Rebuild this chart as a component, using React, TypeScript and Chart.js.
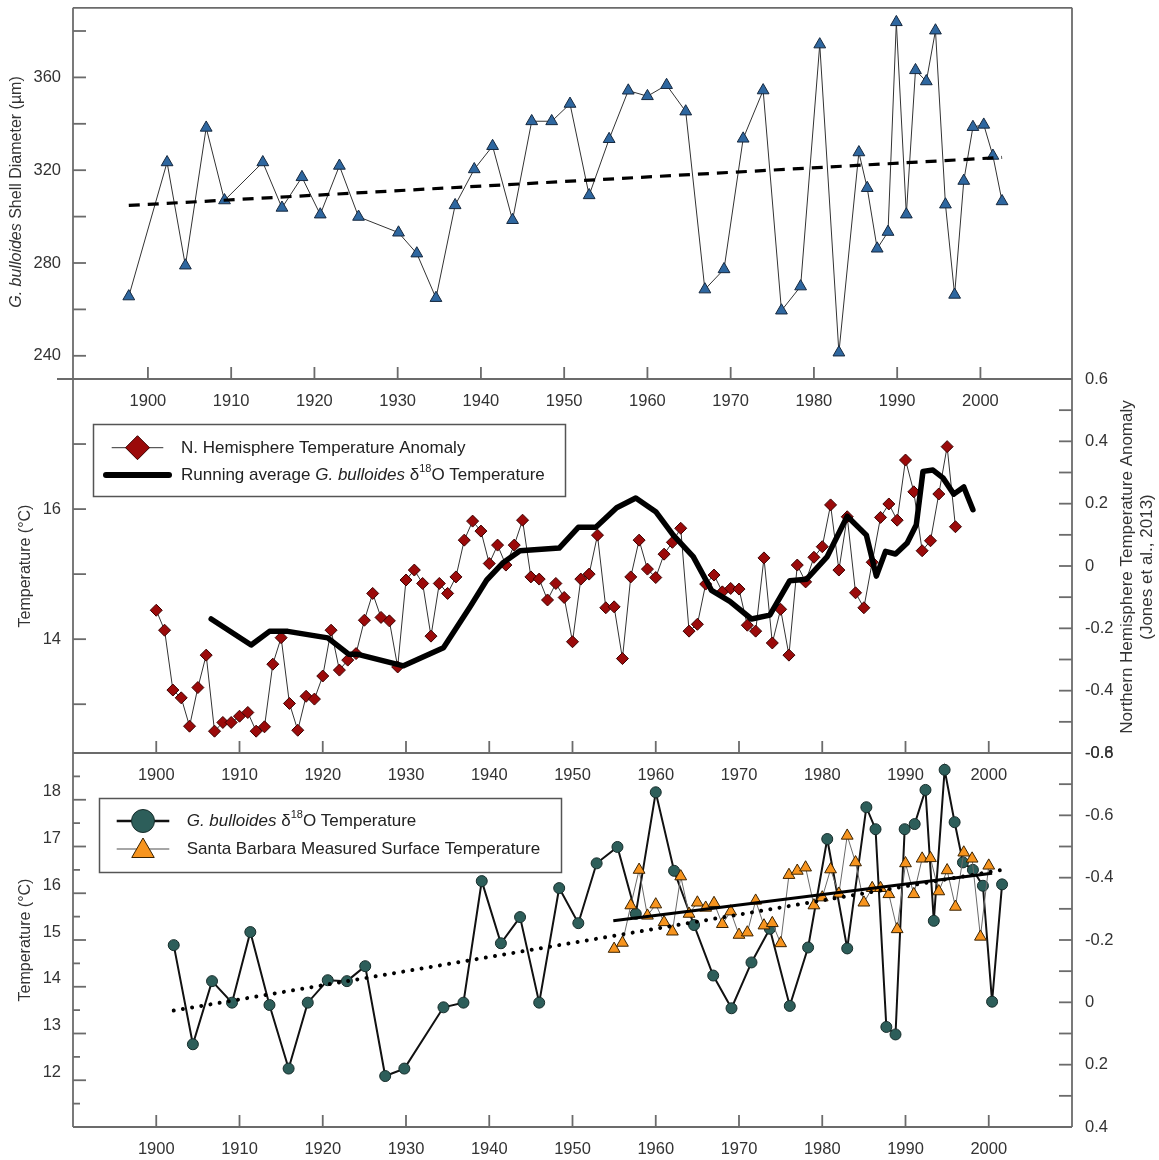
import React, { useEffect, useRef } from "react";
import { Chart, registerables } from "chart.js";

Chart.register(...registerables);

// ---------------- data ----------------
// Top panel: G. bulloides shell diameter (µm)
const shellYears = [1897.7, 1902.3, 1904.5, 1907.0, 1909.2, 1913.8, 1916.1, 1918.5, 1920.7, 1923.0, 1925.3, 1930.1, 1932.3, 1934.6, 1936.9, 1939.2, 1941.4, 1943.8, 1946.1, 1948.5, 1950.7, 1953.0, 1955.4, 1957.7, 1960.0, 1962.3, 1964.6, 1966.9, 1969.2, 1971.5, 1973.9, 1976.1, 1978.4, 1980.7, 1983.0, 1985.4, 1986.4, 1987.6, 1988.9, 1989.9, 1991.1, 1992.2, 1993.5, 1994.6, 1995.8, 1996.9, 1998.0, 1999.1, 2000.4, 2001.5, 2002.6];
const shellDiameter = [265.6, 323.4, 278.9, 338.3, 307.0, 323.4, 303.8, 317.0, 300.9, 321.9, 299.9, 293.1, 284.1, 264.9, 304.9, 320.4, 330.4, 298.5, 341.1, 341.1, 348.6, 309.2, 333.4, 354.3, 351.9, 356.7, 345.3, 268.6, 277.3, 333.6, 354.4, 259.5, 269.9, 374.2, 241.4, 327.7, 312.3, 286.2, 293.4, 383.8, 300.9, 363.1, 358.3, 380.2, 305.2, 266.3, 315.4, 338.6, 339.6, 326.2, 306.6];
const shellTrendYears = [1897.7, 2002.6];
const shellTrend = [304.8, 325.5];

// Middle panel: N. Hemisphere temperature anomaly (right axis)
const nhYears = [1900, 1901, 1902, 1903, 1904, 1905, 1906, 1907, 1908, 1909, 1910, 1911, 1912, 1913, 1914, 1915, 1916, 1917, 1918, 1919, 1920, 1921, 1922, 1923, 1924, 1925, 1926, 1927, 1928, 1929, 1930, 1931, 1932, 1933, 1934, 1935, 1936, 1937, 1938, 1939, 1940, 1941, 1942, 1943, 1944, 1945, 1946, 1947, 1948, 1949, 1950, 1951, 1952, 1953, 1954, 1955, 1956, 1957, 1958, 1959, 1960, 1961, 1962, 1963, 1964, 1965, 1966, 1967, 1968, 1969, 1970, 1971, 1972, 1973, 1974, 1975, 1976, 1977, 1978, 1979, 1980, 1981, 1982, 1983, 1984, 1985, 1986, 1987, 1988, 1989, 1990, 1991, 1992, 1993, 1994, 1995, 1996];
const nhAnomaly = [-0.142, -0.206, -0.398, -0.423, -0.514, -0.390, -0.286, -0.530, -0.502, -0.502, -0.482, -0.470, -0.530, -0.516, -0.315, -0.230, -0.441, -0.527, -0.418, -0.427, -0.353, -0.206, -0.334, -0.302, -0.281, -0.174, -0.088, -0.165, -0.176, -0.324, -0.045, -0.013, -0.056, -0.225, -0.056, -0.088, -0.035, 0.083, 0.144, 0.112, 0.008, 0.067, 0.003, 0.067, 0.147, -0.035, -0.042, -0.109, -0.056, -0.101, -0.243, -0.042, -0.026, 0.099, -0.134, -0.131, -0.297, -0.035, 0.083, -0.010, -0.037, 0.038, 0.076, 0.121, -0.209, -0.187, -0.058, -0.029, -0.083, -0.072, -0.074, -0.190, -0.209, 0.026, -0.247, -0.139, -0.286, 0.003, -0.051, 0.028, 0.062, 0.196, -0.013, 0.158, -0.086, -0.134, 0.012, 0.156, 0.199, 0.147, 0.340, 0.238, 0.049, 0.081, 0.231, 0.383, 0.126];
// Middle panel: running average G. bulloides d18O temperature (left axis)
const runYears = [1906.6, 1911.4, 1913.6, 1915.8, 1920.6, 1923.1, 1924.1, 1929.7, 1934.5, 1937.7, 1939.7, 1941.7, 1943.7, 1948.4, 1950.7, 1952.8, 1955.3, 1957.6, 1960.0, 1962.1, 1964.5, 1966.7, 1968.9, 1971.5, 1973.7, 1976.1, 1978.1, 1980.6, 1983.0, 1985.3, 1986.5, 1987.6, 1988.8, 1990.2, 1991.3, 1992.1, 1993.3, 1994.5, 1995.8, 1997.0, 1998.1];
const runTemp = [14.31, 13.91, 14.12, 14.12, 14.02, 13.77, 13.77, 13.59, 13.87, 14.50, 14.91, 15.18, 15.36, 15.40, 15.72, 15.72, 16.02, 16.17, 15.96, 15.60, 15.27, 14.75, 14.58, 14.31, 14.37, 14.90, 14.92, 15.27, 15.89, 15.60, 14.97, 15.35, 15.31, 15.48, 15.76, 16.58, 16.60, 16.48, 16.23, 16.34, 15.99];

// Bottom panel: G. bulloides d18O temperature
const gbYears = [1902.1, 1904.4, 1906.7, 1909.1, 1911.3, 1913.6, 1915.9, 1918.2, 1920.6, 1922.9, 1925.1, 1927.5, 1929.8, 1934.5, 1936.9, 1939.1, 1941.4, 1943.7, 1946.0, 1948.4, 1950.7, 1952.9, 1955.4, 1957.6, 1960.0, 1962.2, 1964.6, 1966.9, 1969.1, 1971.5, 1973.7, 1976.1, 1978.3, 1980.6, 1983.0, 1985.3, 1986.4, 1987.7, 1988.8, 1989.9, 1991.1, 1992.4, 1993.4, 1994.7, 1995.9, 1996.9, 1998.1, 1999.3, 2000.4, 2001.6];
const gbTemp = [14.89, 12.77, 14.12, 13.66, 15.17, 13.61, 12.25, 13.66, 14.14, 14.12, 14.44, 12.09, 12.25, 13.56, 13.66, 16.26, 14.93, 15.49, 13.66, 16.11, 15.36, 16.64, 16.99, 15.56, 18.16, 16.48, 15.32, 14.24, 13.54, 14.52, 15.24, 13.59, 14.84, 17.16, 14.82, 17.84, 17.37, 13.14, 12.98, 17.37, 17.48, 18.21, 15.41, 18.64, 17.52, 16.66, 16.50, 16.16, 13.68, 16.19];
// Bottom panel: Santa Barbara measured surface temperature
const sbYears = [1955, 1956, 1957, 1958, 1959, 1960, 1961, 1962, 1963, 1964, 1965, 1966, 1967, 1968, 1969, 1970, 1971, 1972, 1973, 1974, 1975, 1976, 1977, 1978, 1979, 1980, 1981, 1982, 1983, 1984, 1985, 1986, 1987, 1988, 1989, 1990, 1991, 1992, 1993, 1994, 1995, 1996, 1997, 1998, 1999, 2000];
const sbTemp = [14.81, 14.94, 15.74, 16.50, 15.52, 15.76, 15.38, 15.18, 16.36, 15.56, 15.80, 15.69, 15.79, 15.34, 15.61, 15.11, 15.16, 15.84, 15.31, 15.36, 14.93, 16.39, 16.48, 16.55, 15.74, 15.91, 16.51, 15.99, 17.23, 16.66, 15.80, 16.11, 16.11, 15.98, 15.23, 16.64, 15.98, 16.74, 16.75, 16.04, 16.49, 15.71, 16.87, 16.74, 15.07, 16.59];
const sbTrendYears = [1954.9, 2000.4];
const sbTrend = [15.41, 16.43];
const gbTrendYears = [1902.1, 2001.6];
const gbTrend = [13.49, 16.5];

// tick labels
const yearTicks = [1900, 1910, 1920, 1930, 1940, 1950, 1960, 1970, 1980, 1990, 2000];
const shellTicks = [240, 280, 320, 360];
const shellMinor = [240, 260, 280, 300, 320, 340, 360, 380];
const midTempTicks = [14, 16];
const midTempMinor = [13, 14, 15, 16, 17];
const midAnomTicks = [0.6, 0.4, 0.2, 0, -0.2, -0.4, -0.6];
const midAnomMinor = [0.5, 0.4, 0.3, 0.2, 0.1, 0, -0.1, -0.2, -0.3, -0.4, -0.5];
const botTempTicks = [12, 13, 14, 15, 16, 17, 18];
const botTempMinor = [11.5, 12.5, 13.5, 14.5, 15.5, 16.5, 17.5, 18.5];
const botAnomTicks = [-0.8, -0.6, -0.4, -0.2, 0, 0.2, 0.4];
const botAnomMinor = [-0.7, -0.6, -0.5, -0.4, -0.3, -0.2, -0.1, 0, 0.1, 0.2, 0.3];

// ---------------- layout / style ----------------
const W = 1159;
const H = 1160;
const LEFT = 73;
const RIGHT = 1072;
const AXW_L = 60; // fixed width of left axis box
const AXW_R = 60; // fixed width of right axis box
const AXH = 40; // fixed height of x axis box
const FAMILY = '"Liberation Sans", Arial, Helvetica, sans-serif';
const TXT = "#333333";
const AXIS = "#6b6b6b";
const TICK_FONT = 16.5;

const BLUE = "#2e67a0";
const RED = "#9b0a0a";
const TEAL = "#2d5e5a";
const ORANGE = "#f7941e";

Chart.defaults.font.family = FAMILY;

type Seg = { t: string; italic?: boolean; sup?: boolean };

const pts = (xs: number[], ys: number[]) => xs.map((x, i) => ({ x, y: ys[i] }));

const fmtAnom = (v: number) => (Math.abs(v) < 1e-9 ? "0" : v.toFixed(1));

function xScale(min: number, max: number) {
  return {
    type: "linear",
    position: "bottom",
    min,
    max,
    grid: { display: false, drawTicks: false },
    border: { display: false },
    ticks: {
      autoSkip: false,
      maxRotation: 0,
      minRotation: 0,
      padding: 13,
      color: TXT,
      font: { size: TICK_FONT },
      callback: (v: number) => String(v),
    },
    afterBuildTicks: (s: any) => {
      s.ticks = yearTicks.map((v) => ({ value: v }));
    },
    afterFit: (s: any) => {
      s.height = AXH;
      s.paddingLeft = 0;
      s.paddingRight = 0;
      s.paddingTop = 0;
      s.paddingBottom = 0;
    },
  };
}

function yScale(
  position: string,
  min: number,
  max: number,
  labels: number[],
  fmt: (v: number) => string,
  extra: any = {}
) {
  return {
    type: "linear",
    position,
    min,
    max,
    reverse: !!extra.reverse,
    grid: { display: false, drawTicks: false },
    border: { display: false },
    ticks: {
      padding: position === "left" ? 12 : 13,
      color: TXT,
      font: { size: TICK_FONT },
      labelOffset: extra.labelOffset || 0,
      callback: fmt,
    },
    afterBuildTicks: (s: any) => {
      s.ticks = labels.map((v) => ({ value: v }));
    },
    afterFit: (s: any) => {
      s.width = position === "left" ? AXW_L : AXW_R;
      s.paddingTop = 0;
      s.paddingBottom = 0;
      s.paddingLeft = 0;
      s.paddingRight = 0;
    },
  };
}

function panelPadding(top: number, bottom: number, hasRight: boolean) {
  return {
    left: LEFT - AXW_L,
    right: W - RIGHT - (hasRight ? AXW_R : 0),
    top,
    bottom: H - bottom - AXH,
  };
}

function segFont(s: Seg, size: number) {
  return `${s.italic ? "italic " : ""}${s.sup ? Math.round(size * 0.62) : size}px ${FAMILY}`;
}

function drawSegs(
  ctx: CanvasRenderingContext2D,
  segs: Seg[],
  x: number,
  y: number,
  size: number,
  align: "left" | "center",
  color = TXT
) {
  let total = 0;
  for (const s of segs) {
    ctx.font = segFont(s, size);
    total += ctx.measureText(s.t).width;
  }
  let cx = align === "center" ? x - total / 2 : x;
  ctx.fillStyle = color;
  ctx.textAlign = "left";
  ctx.textBaseline = "middle";
  for (const s of segs) {
    ctx.font = segFont(s, size);
    ctx.fillText(s.t, cx, s.sup ? y - size * 0.33 : y);
    cx += ctx.measureText(s.t).width;
  }
}

function drawVertical(ctx: CanvasRenderingContext2D, segs: Seg[], cx: number, cy: number, size: number) {
  ctx.save();
  ctx.translate(cx, cy);
  ctx.rotate(-Math.PI / 2);
  drawSegs(ctx, segs, 0, 0, size, "center");
  ctx.restore();
}

function line(ctx: CanvasRenderingContext2D, x1: number, y1: number, x2: number, y2: number) {
  ctx.beginPath();
  ctx.moveTo(x1, y1);
  ctx.lineTo(x2, y2);
  ctx.stroke();
}

type Decor = {
  top?: boolean;
  extendBottomLeft?: number;
  leftTicks: number[];
  leftMinor?: number[];
  rightTicks?: number[];
  draw?: (ctx: CanvasRenderingContext2D, chart: any) => void;
};

function decorPlugin(d: Decor) {
  return {
    id: "decor",
    afterDraw(chart: any) {
      const ctx: CanvasRenderingContext2D = chart.ctx;
      const a = chart.chartArea;
      ctx.save();
      ctx.strokeStyle = AXIS;
      ctx.lineWidth = 1.8;
      ctx.lineCap = "butt";
      // frame
      if (d.top) line(ctx, a.left, a.top, a.right, a.top);
      line(ctx, a.left, a.top, a.left, a.bottom);
      line(ctx, a.right, a.top, a.right, a.bottom);
      line(ctx, a.left - (d.extendBottomLeft || 0), a.bottom, a.right, a.bottom);
      // x ticks (inward)
      const xs = chart.scales.x;
      for (const v of yearTicks) {
        const px = xs.getPixelForValue(v);
        line(ctx, px, a.bottom, px, a.bottom - 12);
      }
      // left ticks
      const ys = chart.scales.y;
      for (const v of d.leftTicks) {
        const py = ys.getPixelForValue(v);
        line(ctx, a.left, py, a.left + 13, py);
      }
      for (const v of d.leftMinor || []) {
        const py = ys.getPixelForValue(v);
        line(ctx, a.left, py, a.left + 7, py);
      }
      // right ticks
      if (d.rightTicks && chart.scales.y2) {
        const y2 = chart.scales.y2;
        for (const v of d.rightTicks) {
          const py = y2.getPixelForValue(v);
          line(ctx, a.right - 13, py, a.right, py);
        }
      }
      ctx.restore();
      if (d.draw) {
        ctx.save();
        d.draw(ctx, chart);
        ctx.restore();
      }
    },
  };
}

function diamond(ctx: CanvasRenderingContext2D, x: number, y: number, r: number) {
  ctx.beginPath();
  ctx.moveTo(x - r, y);
  ctx.lineTo(x, y - r);
  ctx.lineTo(x + r, y);
  ctx.lineTo(x, y + r);
  ctx.closePath();
  ctx.fillStyle = RED;
  ctx.fill();
  ctx.strokeStyle = "#3b0000";
  ctx.lineWidth = 1;
  ctx.stroke();
}

function triangle(ctx: CanvasRenderingContext2D, x: number, y: number, r: number, fill: string) {
  ctx.beginPath();
  ctx.moveTo(x, y - r);
  ctx.lineTo(x + r * Math.sin((2 * Math.PI) / 3), y - r * Math.cos((2 * Math.PI) / 3));
  ctx.lineTo(x + r * Math.sin((4 * Math.PI) / 3), y - r * Math.cos((4 * Math.PI) / 3));
  ctx.closePath();
  ctx.fillStyle = fill;
  ctx.fill();
  ctx.strokeStyle = "#3a2200";
  ctx.lineWidth = 1;
  ctx.stroke();
}

function legendBox(ctx: CanvasRenderingContext2D, x: number, y: number, w: number, h: number) {
  ctx.fillStyle = "#ffffff";
  ctx.fillRect(x, y, w, h);
  ctx.strokeStyle = "#555555";
  ctx.lineWidth = 1.5;
  ctx.strokeRect(x, y, w, h);
}

const LEG = 17;

function makeTop(canvas: HTMLCanvasElement) {
  return new Chart(canvas, {
    type: "scatter",
    data: {
      datasets: [
        {
          data: pts(shellTrendYears, shellTrend),
          showLine: true,
          borderColor: "#000",
          borderWidth: 3.2,
          borderDash: [11, 8],
          pointRadius: 0,
          order: 0,
        },
        {
          data: pts(shellYears, shellDiameter),
          showLine: true,
          borderColor: "#333",
          borderWidth: 1,
          pointStyle: "triangle",
          pointRadius: 6.8,
          pointBackgroundColor: BLUE,
          pointBorderColor: "#16283e",
          pointBorderWidth: 1,
          order: 1,
        },
      ] as any,
    },
    options: {
      responsive: false,
      animation: false,
      events: [],
      layout: { padding: panelPadding(5, 379, false) },
      plugins: { legend: { display: false }, tooltip: { enabled: false } },
      scales: {
        x: xScale(1891, 2011),
        y: yScale("left", 230, 390, shellTicks, (v) => String(v)),
      } as any,
    },
    plugins: [
      decorPlugin({
        top: true,
        extendBottomLeft: 16,
        leftTicks: shellMinor,
        draw: (ctx) => {
          drawVertical(ctx, [{ t: "G. bulloides", italic: true }, { t: " Shell Diameter (µm)" }], 17, 192, 16);
        },
      }),
    ],
  } as any);
}

function makeMid(canvas: HTMLCanvasElement) {
  return new Chart(canvas, {
    type: "scatter",
    data: {
      datasets: [
        {
          data: pts(runYears, runTemp),
          yAxisID: "y",
          showLine: true,
          borderColor: "#000",
          borderWidth: 5.5,
          borderJoinStyle: "round",
          borderCapStyle: "round",
          pointRadius: 0,
          order: 0,
        },
        {
          data: pts(nhYears, nhAnomaly),
          yAxisID: "y2",
          showLine: true,
          borderColor: "#333",
          borderWidth: 1,
          pointStyle: "rectRot",
          pointRadius: 6,
          pointBackgroundColor: RED,
          pointBorderColor: "#3b0000",
          pointBorderWidth: 1,
          order: 1,
        },
      ] as any,
    },
    options: {
      responsive: false,
      animation: false,
      events: [],
      layout: { padding: panelPadding(379, 753, true) },
      plugins: { legend: { display: false }, tooltip: { enabled: false } },
      scales: {
        x: xScale(1890, 2010),
        y: yScale("left", 12.25, 18, midTempTicks, (v) => String(v)),
        y2: yScale("right", -0.6, 0.6, midAnomTicks, fmtAnom),
      } as any,
    },
    plugins: [
      decorPlugin({
        leftTicks: midTempMinor,
        rightTicks: midAnomMinor,
        draw: (ctx) => {
          drawVertical(ctx, [{ t: "Temperature (°C)" }], 26, 566, 16);
          drawVertical(ctx, [{ t: "Northern Hemisphere Temperature Anomaly" }], 1127, 567, 17);
          drawVertical(ctx, [{ t: "(Jones et al., 2013)" }], 1147, 567, 17);
          // legend
          legendBox(ctx, 93.5, 424.5, 472, 72);
          ctx.strokeStyle = "#333";
          ctx.lineWidth = 1;
          line(ctx, 111.7, 447.7, 163.3, 447.7);
          diamond(ctx, 137.5, 447.7, 12);
          drawSegs(ctx, [{ t: "N. Hemisphere Temperature Anomaly" }], 181, 448, LEG, "left", "#222");
          ctx.strokeStyle = "#000";
          ctx.lineWidth = 6;
          ctx.lineCap = "round";
          line(ctx, 106, 475, 169, 475);
          drawSegs(
            ctx,
            [
              { t: "Running average " },
              { t: "G. bulloides", italic: true },
              { t: " δ" },
              { t: "18", sup: true },
              { t: "O Temperature" },
            ],
            181,
            475,
            LEG,
            "left",
            "#222"
          );
        },
      }),
    ],
  } as any);
}

function makeBot(canvas: HTMLCanvasElement) {
  return new Chart(canvas, {
    type: "scatter",
    data: {
      datasets: [
        {
          data: pts(sbTrendYears, sbTrend),
          yAxisID: "y",
          showLine: true,
          borderColor: "#000",
          borderWidth: 3,
          pointRadius: 0,
          order: 0,
        },
        {
          data: pts(gbTrendYears, gbTrend),
          yAxisID: "y",
          showLine: true,
          borderColor: "#000",
          borderWidth: 4,
          borderDash: [0.01, 9.3],
          borderCapStyle: "round",
          pointRadius: 0,
          order: 0,
        },
        {
          data: pts(sbYears, sbTemp),
          yAxisID: "y",
          showLine: true,
          borderColor: "#6a6a6a",
          borderWidth: 1,
          pointStyle: "triangle",
          pointRadius: 6.8,
          pointBackgroundColor: ORANGE,
          pointBorderColor: "#3a2200",
          pointBorderWidth: 1,
          order: 1,
        },
        {
          data: pts(gbYears, gbTemp),
          yAxisID: "y",
          showLine: true,
          borderColor: "#111",
          borderWidth: 2,
          pointStyle: "circle",
          pointRadius: 5.5,
          pointBackgroundColor: TEAL,
          pointBorderColor: "#172d2b",
          pointBorderWidth: 1,
          order: 2,
        },
      ] as any,
    },
    options: {
      responsive: false,
      animation: false,
      events: [],
      layout: { padding: panelPadding(753, 1127, true) },
      plugins: { legend: { display: false }, tooltip: { enabled: false } },
      scales: {
        x: xScale(1890, 2010),
        y: yScale("left", 11, 19, botTempTicks, (v) => String(v), { labelOffset: -8 }),
        y2: yScale("right", -0.8, 0.4, botAnomTicks, fmtAnom, { reverse: true }),
      } as any,
    },
    plugins: [
      decorPlugin({
        leftTicks: botTempTicks,
        leftMinor: botTempMinor,
        rightTicks: botAnomMinor,
        draw: (ctx) => {
          drawVertical(ctx, [{ t: "Temperature (°C)" }], 26, 940, 16);
          legendBox(ctx, 99.5, 798.5, 462, 74);
          ctx.strokeStyle = "#111";
          ctx.lineWidth = 2.5;
          line(ctx, 116.7, 821, 169.3, 821);
          ctx.beginPath();
          ctx.arc(143, 821, 11.5, 0, Math.PI * 2);
          ctx.fillStyle = TEAL;
          ctx.fill();
          ctx.strokeStyle = "#172d2b";
          ctx.lineWidth = 1;
          ctx.stroke();
          drawSegs(
            ctx,
            [
              { t: "G. bulloides", italic: true },
              { t: " δ" },
              { t: "18", sup: true },
              { t: "O Temperature" },
            ],
            186.7,
            821,
            LEG,
            "left",
            "#222"
          );
          ctx.strokeStyle = "#888";
          ctx.lineWidth = 1.5;
          line(ctx, 116.7, 849, 169.3, 849);
          triangle(ctx, 143, 851, 13, ORANGE);
          drawSegs(ctx, [{ t: "Santa Barbara Measured Surface Temperature" }], 186.7, 849, LEG, "left", "#222");
        },
      }),
    ],
  } as any);
}

export default function App() {
  const c1 = useRef<HTMLCanvasElement>(null);
  const c2 = useRef<HTMLCanvasElement>(null);
  const c3 = useRef<HTMLCanvasElement>(null);

  useEffect(() => {
    const charts: Chart[] = [];
    if (c1.current) charts.push(makeTop(c1.current));
    if (c2.current) charts.push(makeMid(c2.current));
    if (c3.current) charts.push(makeBot(c3.current));
    return () => charts.forEach((c) => c.destroy());
  }, []);

  const cs: React.CSSProperties = { position: "absolute", left: 0, top: 0, width: W, height: H };
  return (
    <div style={{ position: "absolute", left: 0, top: 0, width: W, height: H, background: "#fff" }}>
      <canvas ref={c1} width={W} height={H} style={cs} />
      <canvas ref={c2} width={W} height={H} style={cs} />
      <canvas ref={c3} width={W} height={H} style={cs} />
    </div>
  );
}
